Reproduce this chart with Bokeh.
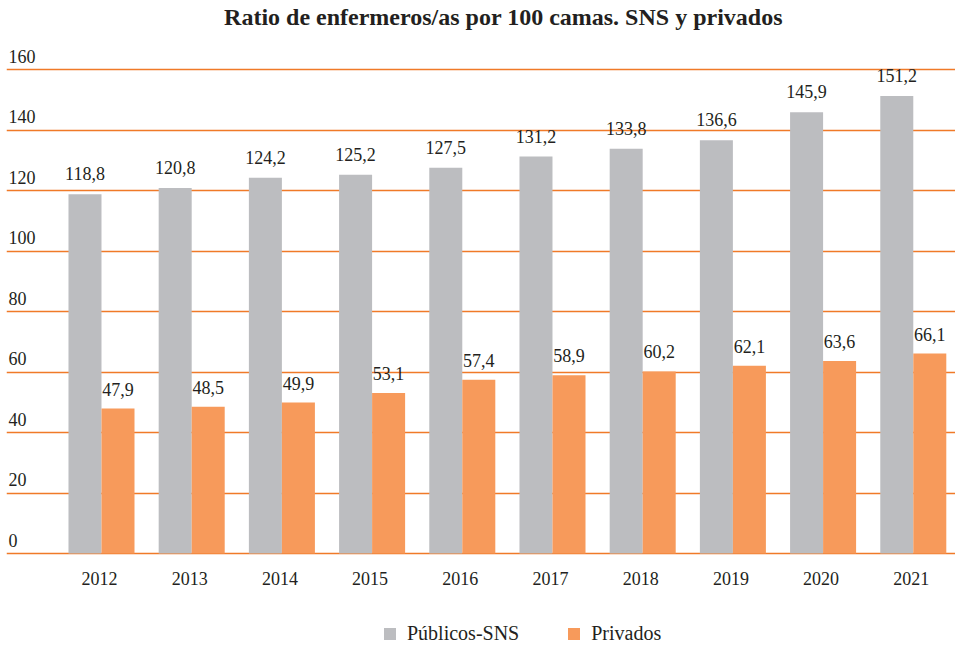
from bokeh.plotting import figure
from bokeh.models import (Range1d, FixedTicker, Legend, LegendItem, ColumnDataSource,
                          Grid, Label)
from bokeh.transform import dodge
from bokeh.core.properties import value
from bokeh.embed import file_html
from bokeh.resources import INLINE
import numpy as np

years = ["2012", "2013", "2014", "2015", "2016", "2017", "2018", "2019", "2020", "2021"]
publicos = [118.8, 120.8, 124.2, 125.2, 127.5, 131.2, 133.8, 136.6, 145.9, 151.2]
privados = [47.9, 48.5, 49.9, 53.1, 57.4, 58.9, 60.2, 62.1, 63.6, 66.1]
y_ticks = [0, 20, 40, 60, 80, 100, 120, 140, 160]

FONT = "Liberation Serif"
TXT = "#231F20"
GRAY = "#BCBDC0"
ORANGE = "#F79A5B"
GRID = "#F07A28"

def fmt(v):
    return f"{v:.1f}".replace(".", ",")

x = np.arange(len(years))
src = ColumnDataSource(dict(
    x=x, year=years, zero=[0] * len(years), pub=publicos, priv=privados,
    pub_lbl=[fmt(v) for v in publicos], priv_lbl=[fmt(v) for v in privados],
))

x_start, x_end = -1.0532, 9.468
p = figure(width=955, height=645, output_backend="svg", toolbar_location=None,
           x_range=Range1d(x_start, x_end), y_range=Range1d(-30.41, 182.81),
           x_axis_location=None, y_axis_location=None,
           min_border_left=6, min_border_right=0, min_border_top=0, min_border_bottom=0)
p.outline_line_color = None
for g in p.grid:
    g.visible = False
p.add_layout(Grid(dimension=1, ticker=FixedTicker(ticks=y_ticks),
                  grid_line_color=GRID, grid_line_width=1.3))

bw = 0.366
r1 = p.vbar(x=dodge("x", -bw / 2, range=p.x_range), top="pub", width=bw, source=src,
            fill_color=GRAY, line_color=None)
r2 = p.vbar(x=dodge("x", bw / 2, range=p.x_range), top="priv", width=bw, source=src,
            fill_color=ORANGE, line_color=None)

p.text(x=dodge("x", -bw / 2, range=p.x_range), y="pub", text="pub_lbl", source=src,
       text_align="center", text_baseline="bottom", y_offset=-14,
       text_font=value(FONT), text_font_size="18px", text_color=TXT)
p.text(x=dodge("x", bw / 2, range=p.x_range), y="priv", text="priv_lbl", source=src,
       text_align="center", text_baseline="bottom", y_offset=-13,
       text_font=value(FONT), text_font_size="18px", text_color=TXT)

# category labels below the zero line
p.text(x="x", y="zero", text="year", source=src, x_offset=-2,
       text_align="center", text_baseline="middle", y_offset=25,
       text_font=value(FONT), text_font_size="18px", text_color=TXT)

# y tick labels sitting above the gridlines
p.text(x=[x_start] * len(y_ticks), y=y_ticks, text=[str(t) for t in y_ticks],
       text_align="left", text_baseline="bottom", x_offset=2, y_offset=-7,
       text_font=value(FONT), text_font_size="18px", text_color=TXT)

p.add_layout(Label(x=497, y=629, x_units="screen", y_units="screen",
                   text="Ratio de enfermeros/as por 100 camas. SNS y privados",
                   text_align="center", text_baseline="middle",
                   text_font=FONT, text_font_size="24px", text_font_style="bold",
                   text_color=TXT))

legend = Legend(items=[LegendItem(label="Públicos-SNS", renderers=[r1]),
                       LegendItem(label="Privados", renderers=[r2])],
                orientation="horizontal", location=(376, 0),
                label_text_font=FONT, label_text_font_size="20px", label_text_color=TXT,
                glyph_width=15, glyph_height=15, label_standoff=10, spacing=47,
                border_line_color=None, background_fill_alpha=0, margin=0, padding=0)
p.add_layout(legend, "center")

open("out.html", "w").write(file_html(p, INLINE))
